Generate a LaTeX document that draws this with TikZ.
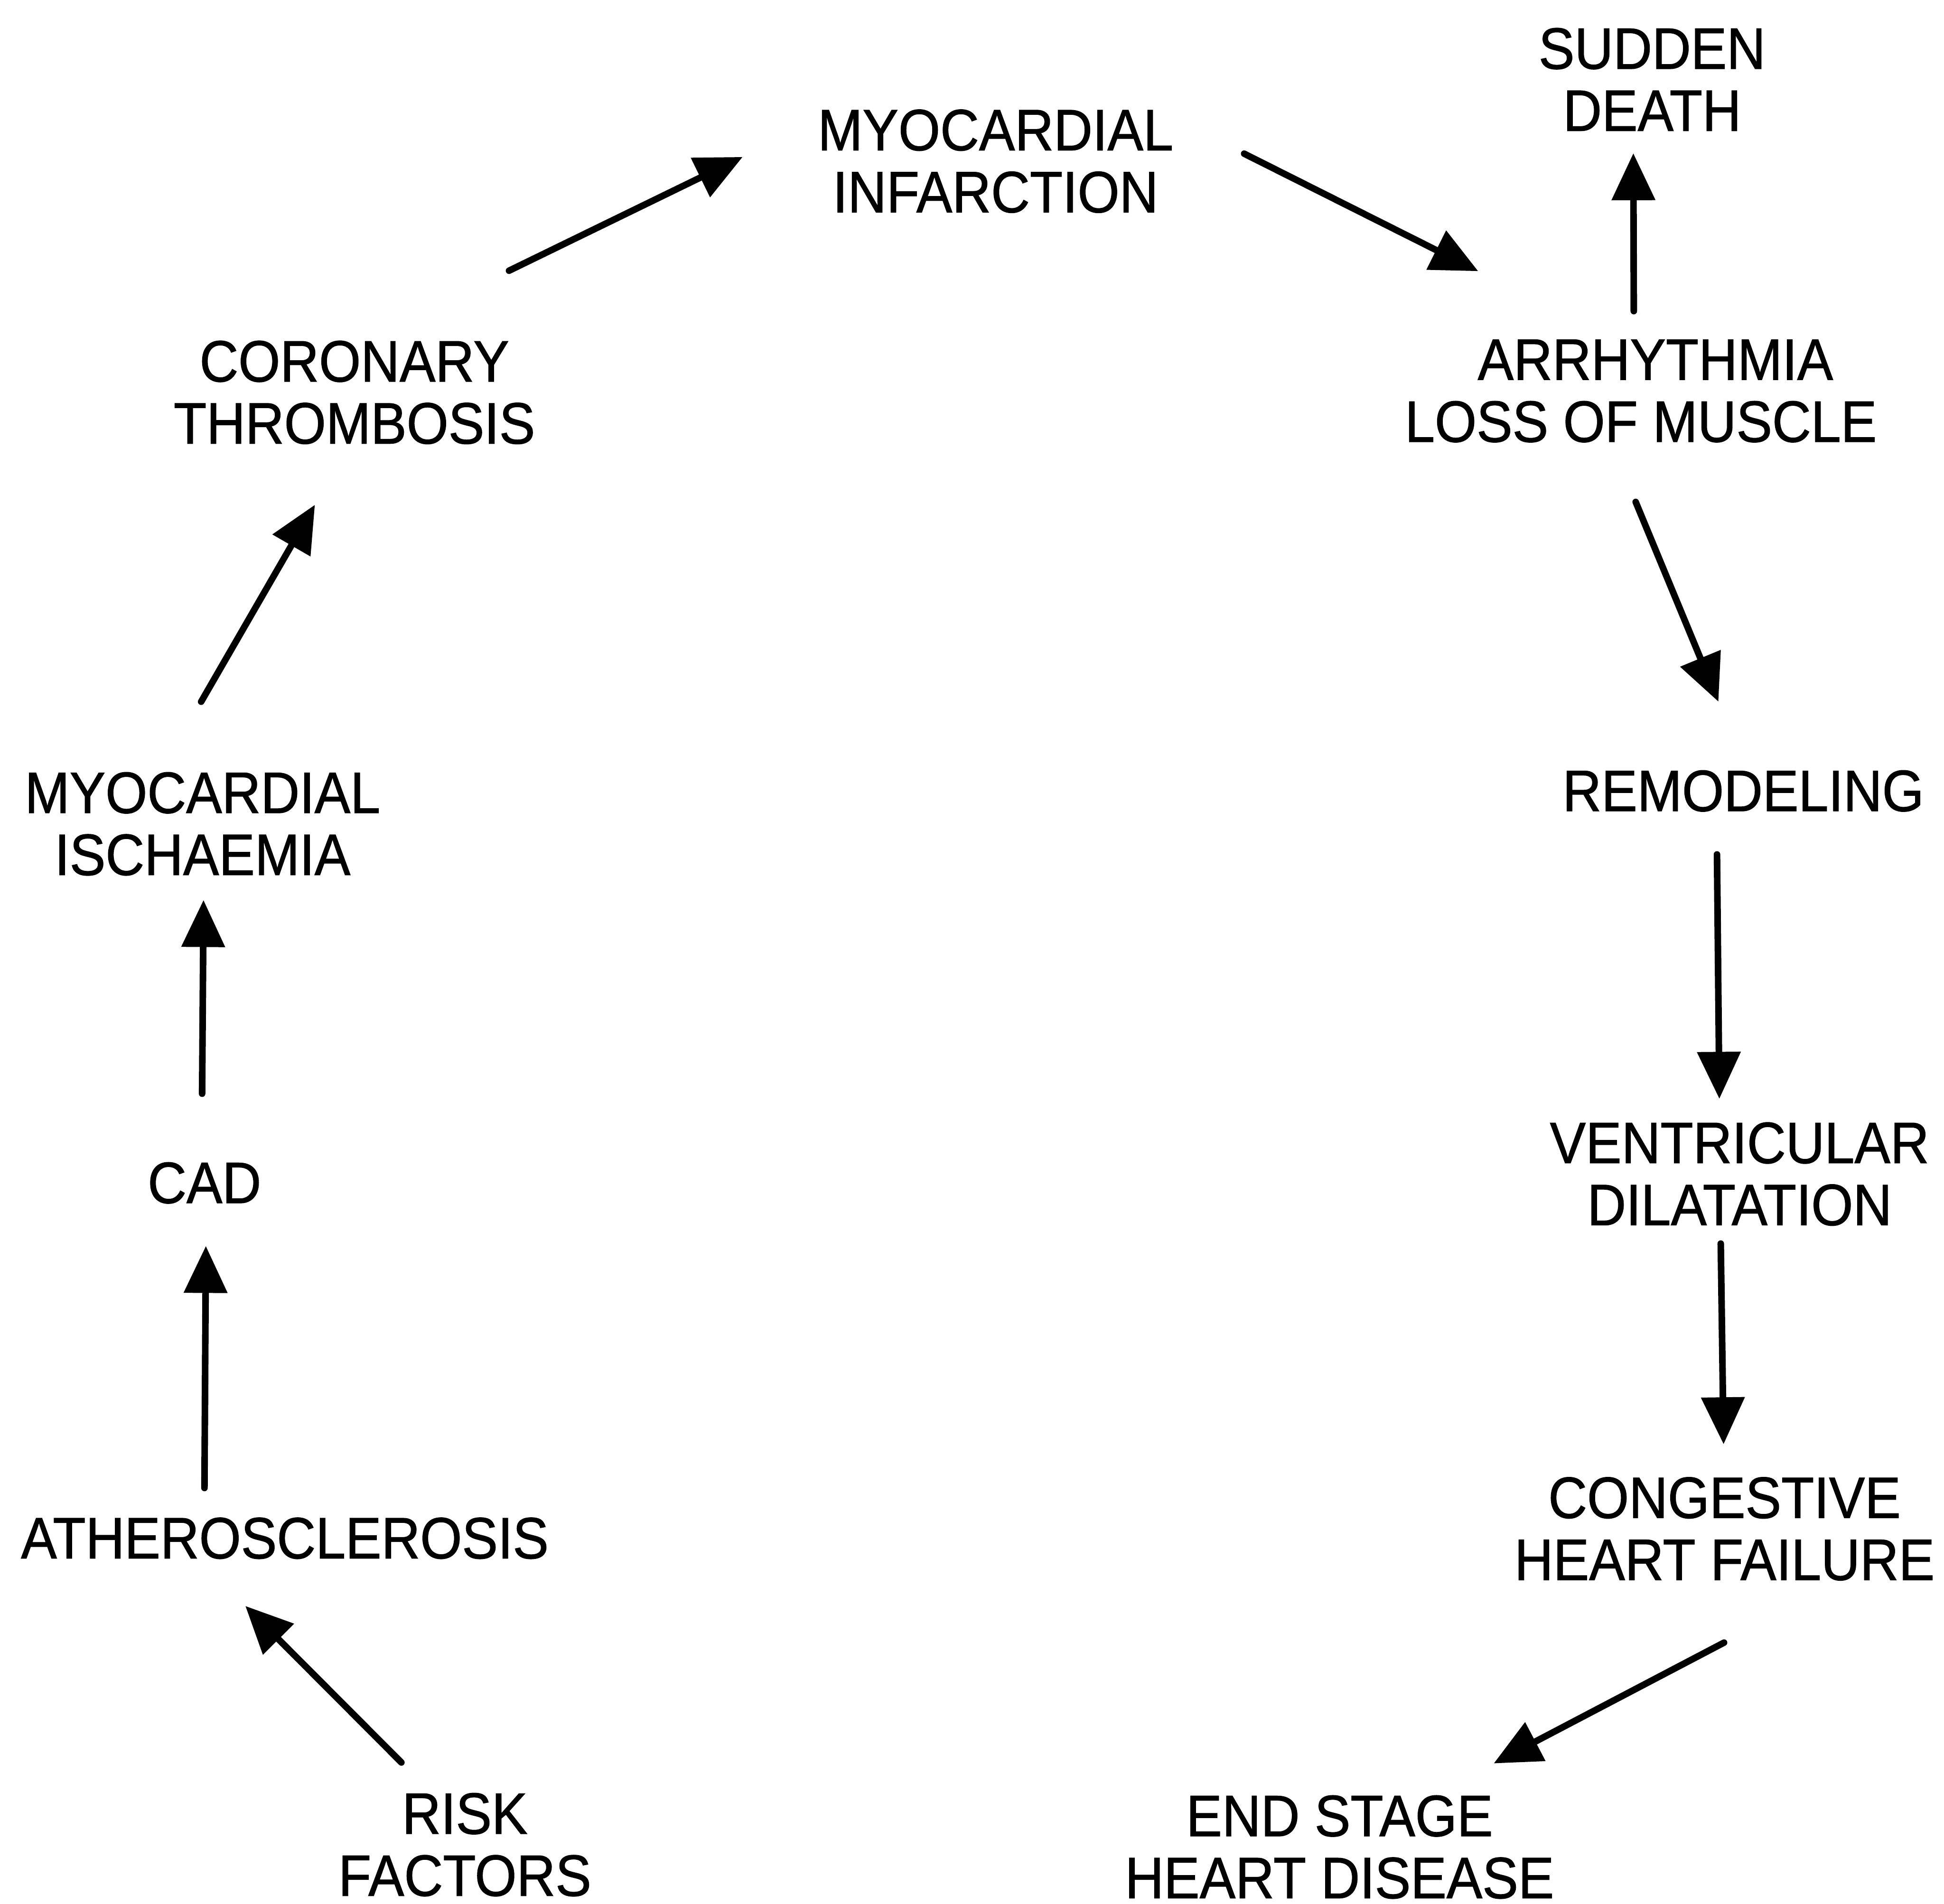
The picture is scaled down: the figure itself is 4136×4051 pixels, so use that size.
\documentclass[tikz,border=0pt]{standalone}
\usepackage{fontspec}
\setmainfont{Liberation Sans}[FakeStretch=0.92,FakeBold=1]
\usetikzlibrary{arrows.meta}
\begin{document}
\begin{tikzpicture}[x=0.1pt,y=-0.1pt,
  lbl/.style={inner sep=0pt, align=center, font=\fontsize{12.43}{13.2}\selectfont},
  flow/.style={line width=1.4pt, line cap=round, -{Triangle[length=10pt,width=9pt]}}]
\useasboundingbox (0,0) rectangle (4136,4051);
% labels
\node[lbl] (mi)   at (2118,343)  {MYOCARDIAL\\INFARCTION};
\node[lbl] (sd)   at (3515,169)  {SUDDEN\\DEATH};
\node[lbl] (ct)   at (754,835)   {CORONARY\\THROMBOSIS};
\node[lbl] (arr)  at (3491,832)  {\hspace*{6.2pt}ARRHYTHMIA\\LOSS OF MUSCLE};
\node[lbl] (rem)  at (3709,1683) {REMODELING};
\node[lbl] (vd)   at (3701,2498) {VENTRICULAR\\DILATATION};
\node[lbl] (chf)  at (3669,3253) {CONGESTIVE\\HEART FAILURE};
\node[lbl] (eshd) at (2850,3930) {END STAGE\\HEART DISEASE};
\node[lbl] (rf)   at (989,3925)  {RISK\\FACTORS};
\node[lbl] (ath)  at (606,3273)  {ATHEROSCLEROSIS};
\node[lbl] (cad)  at (435,2517)  {CAD};
\node[lbl] (mis)  at (431,1753)  {MYOCARDIAL\\ISCHAEMIA};
% connector ends
\coordinate (ct-o)   at (1083,576);
\coordinate (mi-i)   at (1580,334);
\coordinate (mi-o)   at (2647,327);
\coordinate (arr-i)  at (3145,577);
\coordinate (arr-u)  at (3476,662);
\coordinate (sd-i)   at (3475,326);
\coordinate (arr-d)  at (3480,1068);
\coordinate (rem-i)  at (3656,1493);
\coordinate (rem-o)  at (3653,1818);
\coordinate (vd-i)   at (3658,2338);
\coordinate (vd-o)   at (3661,2646);
\coordinate (chf-i)  at (3667,3073);
\coordinate (chf-o)  at (3668,3495);
\coordinate (eshd-i) at (3178,3752);
\coordinate (rf-o)   at (854,3750);
\coordinate (ath-i)  at (522,3417);
\coordinate (ath-o)  at (435,3166);
\coordinate (cad-i)  at (438,2651);
\coordinate (cad-o)  at (430,2327);
\coordinate (mis-i)  at (433,1915);
\coordinate (mis-o)  at (428,1493);
\coordinate (ct-i)   at (670,1074);
% connectors
\draw[flow] (ct-o) -- (mi-i);
\draw[flow] (mi-o) -- (arr-i);
\draw[flow] (arr-u) -- (sd-i);
\draw[flow] (arr-d) -- (rem-i);
\draw[flow] (rem-o) -- (vd-i);
\draw[flow] (vd-o) -- (chf-i);
\draw[flow] (chf-o) -- (eshd-i);
\draw[flow] (rf-o) -- (ath-i);
\draw[flow] (ath-o) -- (cad-i);
\draw[flow] (cad-o) -- (mis-i);
\draw[flow] (mis-o) -- (ct-i);
\end{tikzpicture}
\end{document}
